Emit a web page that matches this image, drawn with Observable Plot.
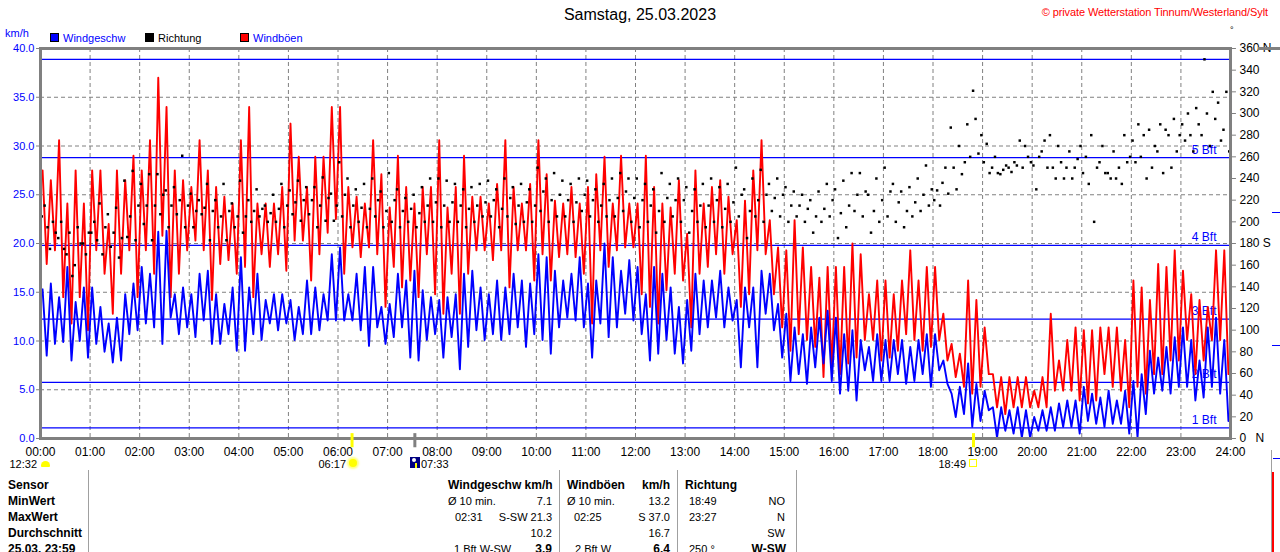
<!DOCTYPE html>
<html><head><meta charset="utf-8">
<script src="https://cdn.jsdelivr.net/npm/d3@7"></script>
<script src="https://cdn.jsdelivr.net/npm/@observablehq/plot@0.6"></script>
<style>
body{margin:0;background:#fff;font-family:"Liberation Sans",Arial,sans-serif;}
#wrap{position:relative;width:1280px;height:552px;overflow:hidden;background:#fff;}
.a{position:absolute;white-space:nowrap;line-height:16px;font-size:11px;color:#000;}
.b{font-weight:bold;font-size:12px;}
.s{line-height:12px;}
.sep{position:absolute;top:470px;height:82px;width:1px;background:#a0a0a0;}
</style></head><body><div id="wrap"></div>
<script>
// ---- data: 10-minute bins, high / low reading of each series (km/h) ----
const windHi = [
15.3,15.9,14.5,17.6,14.0,15.5, 15.5,13.5,11.8,12.4,14.8,15.9, 17.6,16.9,21.2,21.3,14.8,15.5,
14.8,16.9,17.2,14.8,13.8,15.5, 18.6,15.5,16.9,14.2,14.8,14.8, 14.2,13.5,16.2,15.5,14.8,18.9,
19.6,14.8,16.9,17.6,17.6,13.5, 13.8,16.9,16.2,17.2,15.2,14.5, 14.2,14.5,14.8,16.9,17.2,15.5,
14.8,16.2,15.5,16.9,16.2,15.9, 18.9,18.6,17.2,16.2,16.9,18.6, 15.9,16.2,20.0,18.6,17.2,18.3,
17.6,14.8,17.6,16.9,15.5,13.5, 14.2,16.9,16.2,16.2,17.2,15.5, 14.2,15.5,15.5,17.2,16.9,13.8,
12.8,11.4,10.7,11.4,12.4,13.1, 12.4,10.7,11.1,10.1,9.4,10.7, 10.1,10.1,10.1,9.4,10.1,10.7,
10.7,8.0,4.6,5.3,7.7,5.6, 4.9,3.2,3.2,2.9,3.2,2.9, 2.2,2.9,3.2,3.6,3.9,3.9,
5.3,4.6,4.2,4.9,3.9,4.9, 5.9,6.6,9.0,8.3,9.4,10.4, 11.4,10.1,8.0,11.4,12.4,10.1];
const windLo = [
8.5,9.7,9.9,8.0,10.0,8.3, 9.7,8.9,7.8,8.0,10.7,11.1, 11.8,11.4,9.7,12.4,10.7,11.4,
10.4,12.1,9.7,9.7,10.7,9.0, 9.0,10.7,10.1,11.8,11.1,11.8, 10.1,10.7,10.7,11.1,12.1,12.1,
12.1,12.1,11.1,9.5,11.4,9.7, 10.4,11.4,8.3,8.0,10.1,10.7, 8.3,10.4,7.1,9.4,11.1,10.1,
10.7,10.1,10.7,11.4,9.4,10.7, 10.1,8.7,11.4,12.4,12.1,11.4, 8.3,11.8,10.4,11.4,12.8,12.1,
10.7,8.0,8.7,10.1,8.7,7.7, 9.0,10.7,11.4,12.4,11.4,12.1, 7.3,11.4,7.3,12.8,11.1,8.3,
5.9,6.6,5.6,7.3,7.7,5.9, 4.6,4.9,3.9,7.0,5.9,5.9, 5.9,6.6,5.6,5.9,6.6,5.3,
7.0,5.6,2.2,2.5,1.2,1.8, 2.9,0.1,0.8,0.5,0.1,0.1, 0.8,0.8,0.8,1.2,1.2,0.5,
1.8,1.5,1.2,1.5,1.5,0.5, 0.1,2.5,4.6,4.9,4.6,5.3, 5.3,3.9,4.2,5.3,4.6,1.8];
const gustHi = [
27.5,26.5,30.6,24.1,27.5,24.1, 27.5,27.5,22.0,27.5,26.5,29.0, 27.5,30.6,37.0,34.0,27.5,26.5,
25.8,30.6,27.5,25.8,24.8,24.1, 30.6,34.0,24.1,24.1,24.1,25.8, 32.3,28.9,25.8,28.9,28.9,34.0,
34.0,25.8,24.8,24.1,30.6,27.1, 23.7,29.0,25.8,24.1,25.8,25.8, 30.6,23.7,25.8,29.0,24.8,24.8,
24.1,26.1,30.6,25.8,24.1,26.1, 30.6,27.1,24.4,24.1,25.8,24.1, 25.8,27.1,28.9,24.1,29.0,24.1,
24.1,29.0,25.8,24.1,23.7,26.5, 21.0,27.5,24.1,25.8,26.5,24.8, 22.4,24.4,27.5,30.6,22.4,19.6,
19.3,22.4,19.6,17.6,16.5,17.6, 17.6,17.6,20.0,18.9,14.8,16.2, 16.2,14.8,16.2,19.3,16.2,17.6,
17.6,12.8,9.7,8.7,16.2,14.2, 11.4,6.6,6.3,6.3,6.3,6.3, 4.9,6.3,12.8,8.0,10.1,11.4,
11.1,11.1,11.4,11.4,11.4,10.1, 16.2,15.5,14.2,17.9,17.6,19.3, 17.2,14.8,14.2,13.5,19.3,19.3];
const gustLo = [
17.9,19.3,14.5,11.8,14.5,11.1, 19.3,16.9,12.8,16.9,19.3,14.5, 19.3,16.9,20.8,14.5,16.9,19.3,
20.3,19.3,14.2,17.9,18.3,16.9, 17.6,14.5,18.9,17.6,18.9,17.2, 20.3,20.3,16.2,18.9,21.1,22.5,
16.9,19.6,18.6,19.6,18.9,13.5, 17.6,15.5,16.2,14.5,18.9,14.8, 12.8,16.9,12.8,16.9,19.3,19.3,
18.3,19.3,15.5,19.3,19.3,16.2, 18.9,16.2,18.6,18.9,18.6,16.9, 11.8,19.3,17.6,19.3,19.6,19.6,
14.8,13.5,11.8,15.2,16.9,16.2, 11.4,16.9,17.6,18.9,16.9,18.9, 13.5,14.8,19.3,18.9,14.8,11.4,
9.0,10.7,10.1,9.4,6.3,7.3, 6.6,7.7,8.3,10.1,10.1,8.0, 8.3,9.0,10.7,10.1,9.0,9.4,
10.1,8.0,6.3,5.3,4.6,5.3, 6.6,3.2,2.5,3.2,3.2,3.2, 3.2,3.2,4.9,4.9,4.9,3.9,
3.6,3.9,6.6,5.3,4.9,3.2, 5.3,4.6,6.6,6.6,8.0,8.0, 10.1,6.6,8.0,10.1,10.1,6.6];
// wind direction (degrees), three readings per 10-minute bin
const dirA = [
205,175,185,170,160,180, 190,217,207,213,238,247, 235,244,244,229,232,261,
226,220,235,220,235,217, 238,220,230,215,225,235, 229,238,232,232,241,226,
255,240,230,235,240,228, 245,230,222,225,232,240, 240,238,235,230,232,235,
238,230,240,232,235,230, 250,240,245,238,235,240, 238,230,235,240,245,240,
240,235,230,245,235,240, 232,230,235,240,232,235, 250,230,240,248,235,240,
232,228,225,220,228,235, 230,238,245,245,225,240, 250,235,228,232,240,252,
220,236,287,270,290,295, 255,250,244,250,252,270, 252,265,280,270,250,250,
245,280,255,245,240,280, 275,260,285,265,285,295, 290,280,290,300,295,285];
const dirB = [
215,200,200,190,195,170, 200,170,177,167,186,183, 198,183,207,195,207,195,
195,207,183,195,183,195, 190,200,205,200,200,195, 207,201,207,195,201,201,
205,195,200,195,205,195, 200,195,200,195,200,200, 195,200,200,195,200,205,
205,195,205,198,200,200, 210,200,205,205,200,210, 205,200,205,205,210,200,
195,200,190,200,205,200, 190,200,195,200,195,200, 205,185,205,200,210,205,
200,205,200,190,200,205, 185,195,210,205,190,200, 205,200,195,205,210,215,
229,250,250,244,260,263, 272,260,248,246,275,260, 230,275,250,255,265,258,
260,200,270,240,250,255, 255,280,250,290,280,265, 275,265,280,270,310,320];
const dirC = [
195,190,175,150,180,190, 183,195,190,185,205,215, 215,215,225,215,220,215,
210,213,210,205,210,205, 205,210,212,208,212,215, 218,220,220,215,222,215,
225,215,213,212,220,210, 220,210,212,208,215,218, 215,218,215,212,215,218,
220,212,222,215,218,215, 228,220,225,220,218,225, 220,215,220,222,228,222,
220,215,210,222,220,220, 210,215,215,220,212,218, 225,210,220,225,222,225,
215,215,212,205,212,220, 208,215,225,228,210,220, 228,218,210,218,225,230,
215,226,230,255,321,280, 245,245,252,255,250,255, 260,250,240,240,240,270,
235,250,245,265,235,260, 290,240,270,245,250,280, 300,305,350,320,275,265];
const hourTicks = d3.range(0, 25);
const kmhTicks = d3.range(0, 41, 5);
const degTicks = d3.range(0, 361, 20);
const degNames = {180: "180 S", 360: "360 N"};
const bftLines = [1.08, 5.76, 12.24, 19.8, 28.8, 38.88];
const bftLabels = ["1 Bft", "2 Bft", "3 Bft", "4 Bft", "5 Bft", ""];
const events = [6 + 17/60, 7 + 33/60, 18 + 49/60];

const BLUE = "#0000ff", RED = "#ff0000", GRAY = "#808080";
const windPts = windHi.flatMap((h, i) => [{t: (i + 0.25)/6, v: h}, {t: (i + 0.75)/6, v: windLo[i]}]);
const gustPts = gustHi.flatMap((h, i) => [{t: (i + 0.25)/6, v: h}, {t: (i + 0.75)/6, v: gustLo[i]}]);
const dirPts = dirA.flatMap((a, i) => [
  {t: (i*10 + 1.5)/60, d: a}, {t: (i*10 + 5)/60, d: dirB[i]}, {t: (i*10 + 8.5)/60, d: dirC[i]}]);
const bft = bftLines.map((v, i) => ({v, label: bftLabels[i]}));
const pad = h => String(h).padStart(2, "0") + ":00";

const chart = Plot.plot({
  width: 1280, height: 470,
  marginLeft: 40, marginRight: 50, marginTop: 48, marginBottom: 32,
  x: {domain: [0, 24], axis: null},
  y: {domain: [0, 40], axis: null},
  style: {fontFamily: "Liberation Sans, Arial, sans-serif", fontSize: "11px", background: "white", overflow: "visible"},
  marks: [
    Plot.ruleX(hourTicks.slice(1, 24), {stroke: GRAY, strokeDasharray: "4,3", strokeWidth: 1}),
    Plot.ruleY(kmhTicks.slice(1, 8), {stroke: GRAY, strokeDasharray: "4,3", strokeWidth: 1}),
    Plot.ruleY(bft, {y: "v", stroke: BLUE, strokeWidth: 1.3}),
    Plot.text(bft, {x: 24, y: "v", text: "label", textAnchor: "end", dx: -14, dy: -8, fill: BLUE, fontSize: 12}),
    Plot.line(gustPts, {x: "t", y: "v", stroke: RED, strokeWidth: 1.9, curve: "linear"}),
    Plot.line(windPts, {x: "t", y: "v", stroke: BLUE, strokeWidth: 1.9, curve: "linear"}),
    Plot.dot(dirPts, {x: "t", y: d => d.d / 9, symbol: "square", r: 1.4, fill: "black", stroke: null}),
    Plot.frame({stroke: GRAY, strokeWidth: 3}),
    // left axis
    Plot.ruleY(kmhTicks, {x1: -0.08, x2: 0, stroke: GRAY, strokeWidth: 1}),
    Plot.text(kmhTicks, {x: 0, y: d => d, text: d => d.toFixed(1), textAnchor: "end", dx: -6, fill: BLUE, fontSize: 11}),
    // right axis (direction)
    Plot.ruleY(degTicks, {x1: 24, x2: 24.12, y: d => d / 9, stroke: GRAY, strokeWidth: 1}),
    Plot.text(degTicks, {x: 24, y: d => d / 9, text: d => degNames[d] ?? String(d), textAnchor: "start", dx: 9, fill: "black", fontSize: 12}),
    Plot.text(["N"], {x: 24, y: 0, text: d => d, textAnchor: "start", dx: 25, fill: "black", fontSize: 12}),
    // x axis
    Plot.text(hourTicks, {x: d => d, y: 0, text: pad, dy: 14, fill: "black", fontSize: 12}),
    Plot.ruleX(events, {y1: 0.5, y2: -0.95, stroke: (d, i) => i === 1 ? GRAY : "#ffff00", strokeWidth: 3})
  ]
});
chart.style.position = "absolute";
chart.style.left = "0px";
chart.style.top = "0px";
const wrap = document.getElementById("wrap");
wrap.appendChild(chart);

function add(html, css, cls = "a") {
  const d = document.createElement("div");
  d.className = cls;
  d.innerHTML = html;
  d.style.cssText = css;
  wrap.appendChild(d);
  return d;
}
// header
add("Samstag, 25.03.2023", "left:0;width:1280px;text-align:center;top:5px;font-size:16px;line-height:20px;");
add("© private Wetterstation Tinnum/Westerland/Sylt", "right:12px;top:4px;color:#ff0000;font-size:11px;letter-spacing:-0.1px;");
add("°", "left:1230px;top:22px;font-size:9px;");
add("km/h", "left:5px;top:25px;color:#0000ff;");
const legend = [["Windgeschw", BLUE, BLUE, 50], ["Richtung", "#000", "#000", 145], ["Windböen", RED, BLUE, 240]];
legend.forEach(([t, c, tc, x]) => {
  add("", `left:${x}px;top:33px;width:9px;height:9px;background:${c};border:1px solid #000;box-sizing:border-box;`, "a");
  add(t, `left:${x + 13}px;top:30px;color:${tc};`);
});
// sun/moon annotations below the axis
add("12:32", "right:1243px;top:458px;", "a s");
add("", "left:41px;top:461px;width:9px;height:6px;background:#ffff00;border-radius:5px 5px 1px 1px;", "a");
add("06:17", "right:934px;top:458px;", "a s");
add("", "left:349px;top:459px;width:8px;height:8px;background:#ffff00;border-radius:50%;box-shadow:0 0 2px 2px #ffff80;", "a");
add("", "left:410px;top:457px;width:10px;height:11px;background:#000080;", "a");
add("", "left:412px;top:458px;width:4px;height:4px;background:#fff;border-radius:50%;", "a");
add("", "left:415px;top:463px;width:2px;height:5px;background:#ffff00;", "a");
add("07:33", "left:421px;top:458px;", "a s");
add("18:49", "right:314px;top:458px;", "a s");
add("", "left:969px;top:459px;width:8px;height:8px;border:1px solid #ffff00;box-sizing:border-box;", "a");
// table
const rowsY = [477, 493, 509, 525, 541];
["Sensor", "MinWert", "MaxWert", "Durchschnitt", "25.03. 23:59"].forEach((t, i) => add(t, `left:8px;top:${rowsY[i]}px;`, "a b"));
[88, 559, 677, 796].forEach(x => add("", `left:${x}px;`, "sep"));
add("Windgeschw km/h", `left:448px;top:${rowsY[0]}px;`, "a b");
add("Ø 10 min.", `left:448px;top:${rowsY[1]}px;`);
add("7.1", `right:728px;top:${rowsY[1]}px;`);
add("02:31", `left:455px;top:${rowsY[2]}px;`);
add("S-SW 21.3", `right:728px;top:${rowsY[2]}px;`);
add("10.2", `right:728px;top:${rowsY[3]}px;`);
add("1 Bft W-SW", `left:454px;top:${rowsY[4]}px;`);
add("3.9", `right:728px;top:${rowsY[4]}px;`, "a b");
add("Windböen", `left:567px;top:${rowsY[0]}px;`, "a b");
add("km/h", `right:610px;top:${rowsY[0]}px;`, "a b");
add("Ø 10 min.", `left:567px;top:${rowsY[1]}px;`);
add("13.2", `right:610px;top:${rowsY[1]}px;`);
add("02:25", `left:574px;top:${rowsY[2]}px;`);
add("S 37.0", `right:610px;top:${rowsY[2]}px;`);
add("16.7", `right:610px;top:${rowsY[3]}px;`);
add("2 Bft W", `left:575px;top:${rowsY[4]}px;`);
add("6.4", `right:610px;top:${rowsY[4]}px;`, "a b");
add("Richtung", `left:685px;top:${rowsY[0]}px;`, "a b");
add("18:49", `left:689px;top:${rowsY[1]}px;`);
add("NO", `right:495px;top:${rowsY[1]}px;`);
add("23:27", `left:689px;top:${rowsY[2]}px;`);
add("N", `right:495px;top:${rowsY[2]}px;`);
add("SW", `right:495px;top:${rowsY[3]}px;`);
add("250 °", `left:689px;top:${rowsY[4]}px;`);
add("W-SW", `right:494px;top:${rowsY[4]}px;`, "a b");
// clipped neighbour panel at the right edge
add("", "left:1258px;top:47px;width:22px;height:3px;background:#808080;", "a");
add("", "left:1272px;top:212px;width:8px;height:1px;background:#0000ff;", "a");
add("", "left:1272px;top:345px;width:8px;height:1px;background:#0000ff;", "a");
add("", "left:1271px;top:450px;width:1px;height:102px;background:#a0a0a0;", "a");
add("", "left:1272px;top:472px;width:2px;height:80px;background:#ff0000;", "a");
add("", "left:1273px;top:458px;width:7px;height:1px;background:#0000ff;", "a");
</script></body></html>
